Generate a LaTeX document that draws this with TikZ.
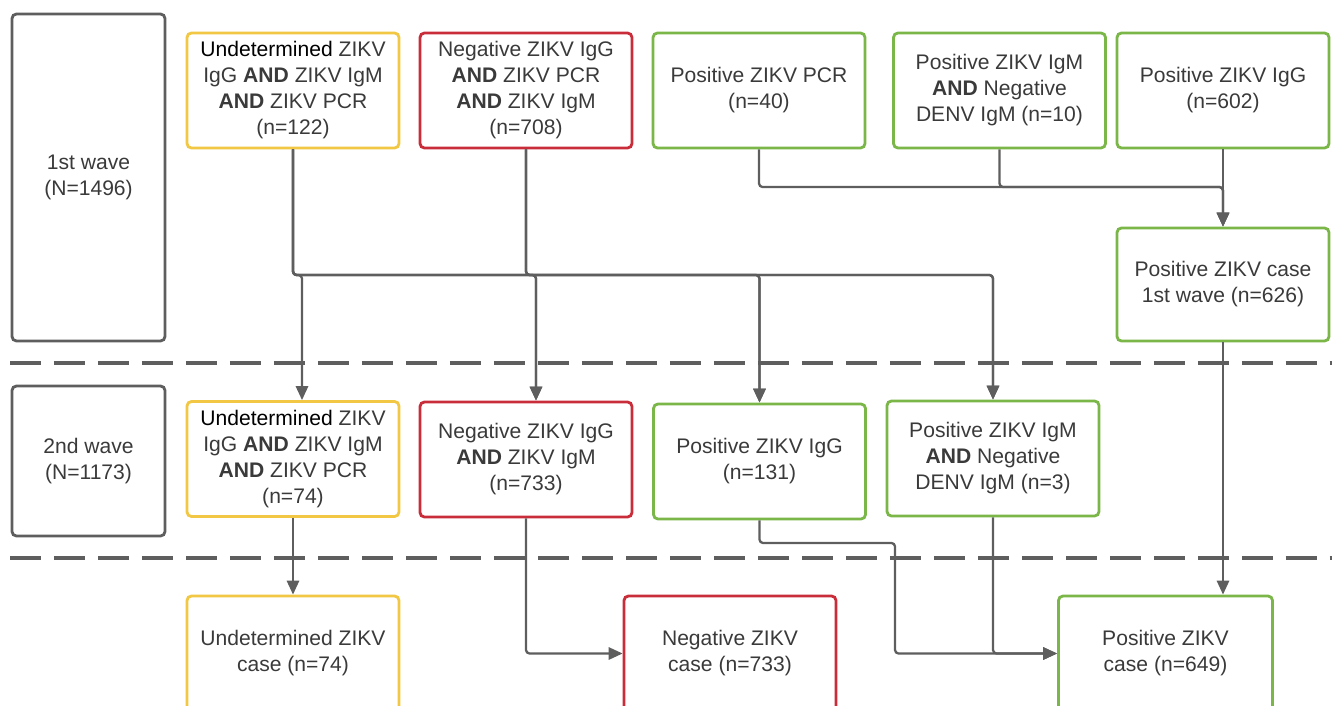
\documentclass[tikz,border=0pt]{standalone}
\usepackage{fontspec}
\setmainfont{Liberation Sans}
\usetikzlibrary{arrows.meta}
\definecolor{txt}{HTML}{3A3A3A}
\definecolor{ln}{HTML}{5E5E5E}
\definecolor{yel}{HTML}{F2C744}
\definecolor{rd}{HTML}{C92D39}
\definecolor{grn}{HTML}{7AB648}
\begin{document}
\begin{tikzpicture}[x=0.02cm,y=-0.02cm,
  box/.style={draw,line width=1.6pt,rounded corners=2.5pt,align=center,
    minimum width=4.24cm,minimum height=2.3cm,inner sep=2pt,text=txt,
    font=\fontsize{12}{14.8}\selectfont},
  ybox/.style={box,draw=yel},
  rbox/.style={box,draw=rd},
  gbox/.style={box,draw=grn},
  wavebox/.style={box,draw=ln,minimum width=3.06cm},
  link/.style={draw=ln,line width=1.3pt,rounded corners=2pt,-{Triangle[length=8pt,width=7pt]}},
  sep/.style={draw=ln,line width=2pt,dash pattern=on 0.62cm off 0.26cm}]
\useasboundingbox (0,0) rectangle (1332,706);
\clip (0,0) rectangle (1332,706);
\node[wavebox,minimum height=6.54cm] (w1) at (88.5,177.5) {1st wave\\(N=1496)};
\node[wavebox,minimum height=3cm] (w2) at (88.5,461) {2nd wave\\(N=1173)};
\draw[sep] (10,363) -- (1332,363);
\draw[sep] (10,558) -- (1332,558);
% 1st wave
\node[ybox] (u1) at (293,90.5) {\textcolor{black}{Undetermined} ZIKV\\IgG \textbf{AND} ZIKV IgM\\\textbf{AND} ZIKV PCR\\(n=122)};
\node[rbox] (n1) at (526,90.5) {Negative ZIKV IgG\\\textbf{AND} ZIKV PCR\\\textbf{AND} ZIKV IgM\\(n=708)};
\node[gbox] (p1) at (759,90.5) {Positive ZIKV PCR\\(n=40)};
\node[gbox] (p2) at (999.5,90.5) {Positive ZIKV IgM\\\textbf{AND} Negative\\DENV IgM (n=10)};
\node[gbox] (p3) at (1223,90.5) {Positive ZIKV IgG\\(n=602)};
\node[gbox,minimum height=2.26cm] (c1) at (1223,284.5) {Positive ZIKV case\\1st wave (n=626)};
% 2nd wave
\node[ybox] (u2) at (293,459) {\textcolor{black}{Undetermined} ZIKV\\IgG \textbf{AND} ZIKV IgM\\\textbf{AND} ZIKV PCR\\(n=74)};
\node[rbox] (n2) at (526,459.5) {Negative ZIKV IgG\\\textbf{AND} ZIKV IgM\\(n=733)};
\node[gbox] (g2) at (759.5,461.5) {Positive ZIKV IgG\\(n=131)};
\node[gbox] (m2) at (993,458.5) {Positive ZIKV IgM\\\textbf{AND} Negative\\DENV IgM (n=3)};
% cases
\node[ybox] (u3) at (293,653.5) {Undetermined ZIKV\\case (n=74)};
\node[rbox] (n3) at (730,653.5) {Negative ZIKV\\case (n=733)};
\node[gbox,minimum width=4.28cm] (f3) at (1165.5,653.5) {Positive ZIKV\\case (n=649)};
\draw[link] (p1.south) |- (c1.north |- 0,187) -- (c1.north);
\draw[link] (p2.south) |- (c1.north |- 0,187) -- (c1.north);
\draw[link] (p3.south) -- (c1.north);
\draw[link] (u1.south) |- (302,275) -- (u2.north -| 302,0);
\draw[link] (u1.south) |- (536,275) -- (n2.north -| 536,0);
\draw[link] (u1.south) |- (g2.north |- 0,275) -- (g2.north);
\draw[link] (u1.south) |- (m2.north |- 0,275) -- (m2.north);
\draw[link] (n1.south) |- (536,275) -- (n2.north -| 536,0);
\draw[link] (n1.south) |- (g2.north |- 0,275) -- (g2.north);
\draw[link] (n1.south) |- (m2.north |- 0,275) -- (m2.north);
\draw[link] (c1.south) -- (f3.north -| c1.south);
\draw[link] (u2.south) -- (u3.north);
\draw[link] (n2.south) |- (n3.west);
\draw[link] (g2.south) |- (895,543) |- (f3.west);
\draw[link] (m2.south) |- (f3.west);
\end{tikzpicture}
\end{document}
